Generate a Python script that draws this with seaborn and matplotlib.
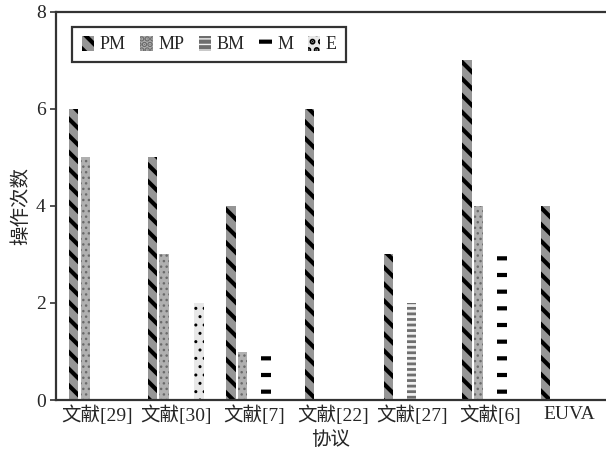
import matplotlib
matplotlib.use('Agg')
import matplotlib.pyplot as plt
import seaborn as sns
import pandas as pd

# dados
protocolos = ['文献[29]', '文献[30]', '文献[7]', '文献[22]', '文献[27]', '文献[6]', 'EUVA']
series = ['PM', 'MP', 'BM', 'M', 'E']
pm = [6, 5, 4, 6, 3, 7, 4]
mp = [5, 3, 1, 0, 0, 4, 0]
bm = [0, 0, 0, 0, 2, 0, 0]
m = [0, 0, 1, 0, 0, 3, 0]
e = [0, 2, 0, 0, 0, 0, 0]
yticks = [0, 2, 4, 6, 8]

rows = []
for nome, vals in zip(series, [pm, mp, bm, m, e]):
    for p, v in zip(protocolos, vals):
        rows.append({'protocolo': p, 'tipo': nome, 'valor': v})
df = pd.DataFrame(rows)

sns.set_style('white')
plt.rcParams['font.family'] = ['Liberation Serif', 'Noto Sans CJK SC']
plt.rcParams['hatch.linewidth'] = 3.0

# cor de fundo, cor da hachura, hachura, espessura
estilos = {
    'PM': ('#969696', 'black', '\\\\', 3.0),
    'MP': ('#b0b0b0', '#6a6a6a', '...', 1.0),
    'BM': ('#f2f2f2', '#6e6e6e', '---', 2.0),
    'M': ('#ffffff', 'black', '-', 3.0),
    'E': ('#e8e8e8', 'black', '..', 1.0),
}

fig = plt.figure(figsize=(6.06, 4.58), dpi=100)
ax = fig.add_axes([0.0924, 0.1266, 0.9076, 0.8474])

sns.barplot(data=df, x='protocolo', y='valor', hue='tipo', order=protocolos,
            hue_order=series, width=0.743, gap=0.2, linewidth=0,
            palette=[estilos[s][0] for s in series], ax=ax, legend=False)

for cont, nome in zip(ax.containers, series):
    fc, hc, hatch, hlw = estilos[nome]
    for bar in cont.patches:
        bar.set_facecolor(fc)
        bar.set_edgecolor(hc)
        bar.set_linewidth(0)
        bar.set_hatch(hatch)
        if hasattr(bar, 'set_hatch_linewidth'):
            bar.set_hatch_linewidth(hlw)
    cont.set_label(nome)

leg = ax.legend(handles=ax.containers, labels=series, ncol=5, loc='upper left',
                bbox_to_anchor=(0.03, 0.962), borderaxespad=0, fontsize=13,
                handlelength=0.7, handleheight=0.9, handletextpad=0.3,
                columnspacing=0.8, fancybox=False, borderpad=0.5)
leg.get_frame().set_edgecolor('black')
leg.get_frame().set_linewidth(1.6)

ax.set_xlim(-0.52, 6.47)
ax.set_ylim(0, 8)
ax.set_yticks(yticks)
ax.set_xlabel('协议', fontsize=14, labelpad=4)
ax.set_ylabel('操作次数', fontsize=14)
ax.tick_params(axis='y', length=4, width=1.2, labelsize=14, left=True, color='#333333')
ax.tick_params(axis='x', length=0, labelsize=14, pad=4)
for lado in ['left', 'bottom', 'top']:
    ax.spines[lado].set_color('#333333')
    ax.spines[lado].set_linewidth(1.6)
ax.spines['right'].set_visible(False)

plt.savefig('out.png', dpi=100)
